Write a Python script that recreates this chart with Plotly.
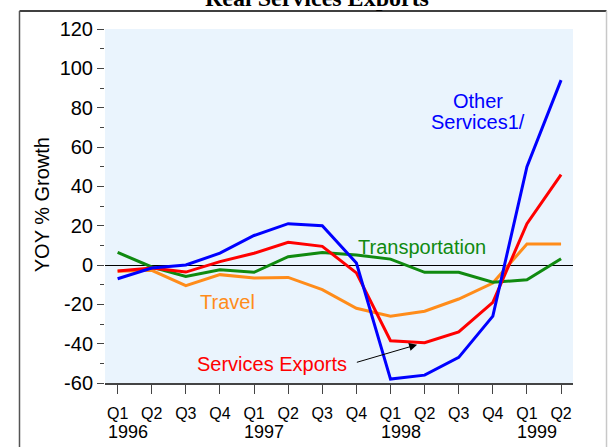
import plotly.graph_objects as go

quarters = ["Q1", "Q2", "Q3", "Q4", "Q1", "Q2", "Q3", "Q4",
            "Q1", "Q2", "Q3", "Q4", "Q1", "Q2"]
years = ["1996", "1997", "1998", "1999"]
year_pos = [0, 4, 8, 12]

other_services = [-7, -1.5, 0, 6, 15, 21, 20, 1, -58, -56, -47, -26, 50, 94]
services_exports = [-3, -1.5, -3.6, 1.7, 6, 11.5, 9.5, -4, -38.5, -39.5, -34, -19, 21, 46]
transportation = [6.4, -1, -5.8, -2.4, -3.7, 4.2, 6.3, 5.1, 3, -3.7, -3.7, -8.8, -7.5, 3.2]
travel = [-3.2, -2.7, -10.5, -4.9, -6.6, -6.3, -12.5, -22, -26, -23.5, -17.3, -9.2, 10.7, 10.7]

ytick_vals = [-60, -40, -20, 0, 20, 40, 60, 80, 100, 120]

x = list(range(len(quarters)))
font = "Liberation Sans, Arial, sans-serif"

fig = go.Figure()
for vals, color in [(travel, "#ff8c1a"), (transportation, "#108a10"),
                    (services_exports, "#ff0000"), (other_services, "#0000ff")]:
    fig.add_trace(go.Scatter(x=x, y=vals, mode="lines",
                             line=dict(color=color, width=3), showlegend=False))

fig.update_xaxes(range=[-0.37, 13.35], tickvals=x, ticktext=quarters,
                 ticks="outside", ticklen=9, tickcolor="#444", showline=True,
                 linecolor="#444", linewidth=1.5, showgrid=False, zeroline=False,
                 ticklabelstandoff=6,
                 tickfont=dict(family=font, size=16, color="black"))
fig.update_yaxes(range=[-60, 120], tickvals=ytick_vals,
                 ticktext=[str(v) for v in ytick_vals],
                 ticks="outside", ticklen=7, tickcolor="#444", showgrid=False,
                 zeroline=True, zerolinecolor="black", zerolinewidth=1,
                 minor=dict(dtick=10, ticks="outside", ticklen=4, tickcolor="#444"),
                 tickfont=dict(family=font, size=20, color="black"))

anns = []
for yr, p in zip(years, year_pos):
    anns.append(dict(x=p, y=-0.138, xref="x", yref="paper", yanchor="middle",
                     text=yr, showarrow=False, xshift=10,
                     font=dict(family=font, size=18, color="black")))
anns += [
    dict(x=-0.1353, y=0.504, xref="paper", yref="paper", xanchor="center", yanchor="middle",
         text="YOY % Growth", textangle=-90, showarrow=False,
         font=dict(family=font, size=20, color="black")),
    dict(x=0.453, y=1.0466, xref="paper", yref="paper", xanchor="center", yanchor="bottom",
         text="<b>Real Services Exports</b>", showarrow=False,
         font=dict(family="Liberation Serif, Times New Roman, serif", size=24, color="black")),
    # white strip hiding the part of the title below the cut, as in the original
    dict(x=0.453, y=1.06, xref="paper", yref="paper", xanchor="center", yanchor="middle",
         text=" ", showarrow=False, width=260, height=4, bgcolor="white",
         borderpad=0, borderwidth=0, font=dict(size=2)),
    dict(x=10.57, y=83.5, text="Other", showarrow=False,
         font=dict(family=font, size=20, color="#0000ff")),
    dict(x=10.57, y=72.5, text="Services1/", showarrow=False,
         font=dict(family=font, size=20, color="#0000ff")),
    dict(x=8.93, y=9.3, text="Transportation", showarrow=False,
         font=dict(family=font, size=20, color="#108a10")),
    dict(x=3.22, y=-19, text="Travel", showarrow=False,
         font=dict(family=font, size=20, color="#ff8c1a")),
    dict(x=4.54, y=-50.5, text="Services Exports", showarrow=False,
         font=dict(family=font, size=20, color="#ff0000")),
    dict(x=8.78, y=-40.5, ax=6.97, ay=-49.7, axref="x", ayref="y", text="",
         showarrow=True, arrowhead=2, arrowsize=1.6, arrowwidth=1, arrowcolor="black"),
]

fig.update_layout(
    width=609, height=447, autosize=False,
    margin=dict(l=105, r=36, t=29, b=64),
    paper_bgcolor="white", plot_bgcolor="#eaf4fd",
    annotations=anns,
    shapes=[
        dict(type="line", xref="paper", yref="paper", x0=-0.1827, x1=1.0716,
             y0=1.0508, y1=1.0508, line=dict(color="black", width=1.5)),
        dict(type="line", xref="paper", yref="paper", x0=-0.1827, x1=-0.1827,
             y0=1.0508, y1=-0.3, line=dict(color="#555", width=1.5)),
        dict(type="line", xref="paper", yref="paper", x0=1.0716, x1=1.0716,
             y0=1.0508, y1=-0.3, line=dict(color="#c8c8c8", width=1.5)),
    ],
)

# drop the default 8px page margin so the figure sits at the window corner
fig.write_html("out.html", config={"displayModeBar": False},
               post_script="document.body.style.margin = '0';")
